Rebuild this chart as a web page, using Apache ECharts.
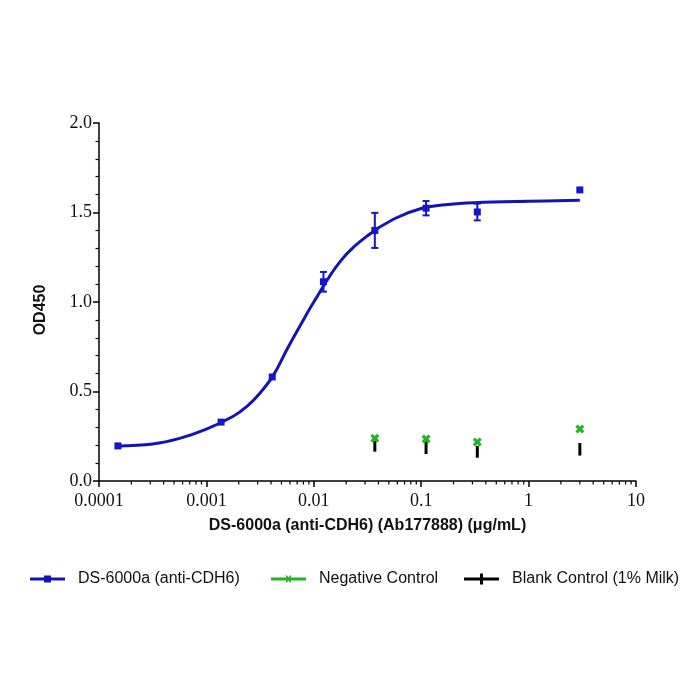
<!DOCTYPE html>
<html>
<head>
<meta charset="utf-8">
<script src="https://cdn.jsdelivr.net/npm/echarts@6/dist/echarts.min.js"></script>
<style>html,body{margin:0;padding:0;background:#fff;}#c{width:700px;height:700px;}</style>
</head>
<body>
<div id="c"></div>
<script>
// ---- data ----
const concentrations = [0.00015, 0.00137, 0.0041, 0.0123, 0.037, 0.111, 0.333, 3];
const dsMean = [0.196, 0.329, 0.581, 1.113, 1.40, 1.524, 1.503, 1.626];
const dsErr = [0, 0, 0, 0.055, 0.098, 0.04, 0.047, 0];
const ctrlConc = [0.037, 0.111, 0.333, 3];
const negMean = [0.239, 0.234, 0.218, 0.291];
const blankMean = [0.194, 0.186, 0.163, 0.177];
const blankErr = [0.030, 0.035, 0.033, 0.035];
// fitted curve
const fitConc = [0.00015, 0.000316, 0.000562, 0.001, 0.00178, 0.0024, 0.00316, 0.0042, 0.00562, 0.0075, 0.01, 0.0178, 0.0316, 0.0562, 0.1, 0.178, 0.316, 1, 3];
const fitOD = [0.196, 0.207, 0.238, 0.29, 0.362, 0.418, 0.492, 0.59, 0.735, 0.87, 1.0, 1.23, 1.37, 1.465, 1.522, 1.545, 1.555, 1.563, 1.568];
const xTickLabels = ['0.0001', '0.001', '0.01', '0.1', '1', '10'];
const seriesNames = ['DS-6000a (anti-CDH6)', 'Negative Control', 'Blank Control (1% Milk)'];
const xTitle = 'DS-6000a (anti-CDH6) (Ab177888) (μg/mL)';
const yTitle = 'OD450';

// minor tick positions of the log axis (2..9 in each decade)
const minorTicks = [];
[0.0001, 0.001, 0.01, 0.1, 1].forEach(function (d) {
  [2, 3, 4, 5, 6, 7, 8, 9].forEach(function (m) { minorTicks.push([d * m, 0]); });
});

const BLUE = '#1414b4', BLUE_PT = '#1515cc', GREEN = '#22b422', BLACK = '#000';
const serif = '"Liberation Serif", "Times New Roman", serif';
const sans = '"Liberation Sans", Arial, sans-serif';
const CROSS = 'path://M0,2.5 L2.5,0 L5,2.5 L7.5,0 L10,2.5 L7.5,5 L10,7.5 L7.5,10 L5,7.5 L2.5,10 L0,7.5 L2.5,5 Z';

const chart = echarts.init(document.getElementById('c'), null, {renderer: 'canvas'});

function errBarItem(color, lw, cap) {
  return function (params, api) {
    const x = api.value(0), m = api.value(1), e = api.value(2);
    if (!e) return null;
    const top = api.coord([x, m + e]);
    const bot = api.coord([x, m - e]);
    const children = [{
      type: 'line', shape: {x1: top[0], y1: top[1], x2: bot[0], y2: bot[1]},
      style: {stroke: color, lineWidth: lw}
    }];
    if (cap > 0) {
      children.push({type: 'line', shape: {x1: top[0] - cap / 2, y1: top[1], x2: top[0] + cap / 2, y2: top[1]}, style: {stroke: color, lineWidth: lw}});
      children.push({type: 'line', shape: {x1: bot[0] - cap / 2, y1: bot[1], x2: bot[0] + cap / 2, y2: bot[1]}, style: {stroke: color, lineWidth: lw}});
    }
    return {type: 'group', children: children};
  };
}

const legendText = {fontFamily: sans, fontSize: 16, color: '#111', padding: [0, 0, 0, 8]};

const option = {
  animation: false,
  backgroundColor: '#fff',
  grid: {left: 99, right: 64, top: 123, bottom: 219, containLabel: false},
  legend: [
    {left: 25, top: 566, itemWidth: 35, itemHeight: 7, textStyle: legendText, selectedMode: false,
     data: [{name: seriesNames[0], icon: 'path://M0,2 L35,2 L35,5 L0,5 Z M14,0 L21,0 L21,7 L14,7 Z', itemStyle: {color: BLUE, borderWidth: 0, opacity: 1}}]},
    {left: 266, top: 566, itemWidth: 35, itemHeight: 7, textStyle: legendText, selectedMode: false,
     data: [{name: seriesNames[1], icon: 'path://M0,2 L35,2 L35,5 L0,5 Z M14.5,0 L16,0 L17.5,2 L19,0 L20.5,0 L18.8,3.5 L20.5,7 L19,7 L17.5,5 L16,7 L14.5,7 L16.2,3.5 Z', itemStyle: {color: GREEN, borderWidth: 0, opacity: 1}}]},
    {left: 459, top: 566, itemWidth: 35, itemHeight: 11, textStyle: legendText, selectedMode: false,
     data: [{name: seriesNames[2], icon: 'path://M0,4 L35,4 L35,7 L0,7 Z M16,0 L19,0 L19,11 L16,11 Z', itemStyle: {color: BLACK, borderWidth: 0, opacity: 1}}]}
  ],
  xAxis: {
    type: 'log', logBase: 10, min: 0.0001, max: 10,
    name: xTitle, nameLocation: 'middle', nameGap: 37,
    nameTextStyle: {fontFamily: sans, fontWeight: 'bold', fontSize: 16, color: '#111'},
    axisLine: {lineStyle: {color: '#000', width: 1.5}},
    axisTick: {length: 6, lineStyle: {color: '#000', width: 1.5}},
    axisLabel: {fontFamily: serif, fontSize: 18, color: '#111', margin: 11,
      formatter: function (v) {
        const i = Math.round(Math.log10(v) + 4);
        return xTickLabels[i] !== undefined ? xTickLabels[i] : '';
      }},
    splitLine: {show: false}
  },
  yAxis: {
    type: 'value', min: 0, max: 2, interval: 0.5,
    name: yTitle, nameLocation: 'middle', nameGap: 50,
    nameTextStyle: {fontFamily: sans, fontWeight: 'bold', fontSize: 16, color: '#111', padding: [0, 16, 0, 0]},
    axisLine: {show: true, lineStyle: {color: '#000', width: 1.5}},
    axisTick: {show: true, length: 6, lineStyle: {color: '#000', width: 1.5}},
    minorTick: {show: true, splitNumber: 5, length: 3.5, lineStyle: {color: '#000', width: 1.2}},
    axisLabel: {fontFamily: serif, fontSize: 18, color: '#111', margin: 7,
      formatter: function (v) { return v.toFixed(1); }},
    splitLine: {show: false}
  },
  series: [
    {
      name: seriesNames[0], type: 'line', smooth: 0.4,
      showSymbol: false, symbol: 'none', z: 2,
      lineStyle: {color: BLUE, width: 3}, itemStyle: {color: BLUE},
      data: fitConc.map(function (c, i) { return [c, fitOD[i]]; })
    },
    {
      name: seriesNames[0], type: 'custom', z: 3,
      itemStyle: {color: BLUE_PT},
      renderItem: errBarItem(BLUE_PT, 2, 7),
      data: concentrations.map(function (c, i) { return [c, dsMean[i], dsErr[i]]; })
    },
    {
      name: seriesNames[0], type: 'scatter', symbol: 'rect', symbolSize: 7, z: 4,
      itemStyle: {color: BLUE_PT, opacity: 1},
      data: concentrations.map(function (c, i) { return [c, dsMean[i]]; })
    },
    {
      name: seriesNames[2], type: 'custom', z: 3,
      itemStyle: {color: BLACK},
      renderItem: errBarItem(BLACK, 3, 0),
      data: ctrlConc.map(function (c, i) { return [c, blankMean[i], blankErr[i]]; })
    },
    {
      name: seriesNames[1], type: 'scatter', z: 5, symbolSize: 9,
      symbol: CROSS,
      itemStyle: {color: GREEN, opacity: 1},
      data: ctrlConc.map(function (c, i) { return [c, negMean[i]]; })
    },
    {
      name: 'minor-x-ticks', type: 'custom', silent: true, clip: false, z: 10,
      renderItem: function (params, api) {
        const p = api.coord([api.value(0), 0]);
        return {type: 'line', shape: {x1: p[0], y1: p[1], x2: p[0], y2: p[1] + 3.5}, style: {stroke: '#000', lineWidth: 1.2}};
      },
      data: minorTicks
    }
  ]
};
chart.setOption(option);
</script>
</body>
</html>
